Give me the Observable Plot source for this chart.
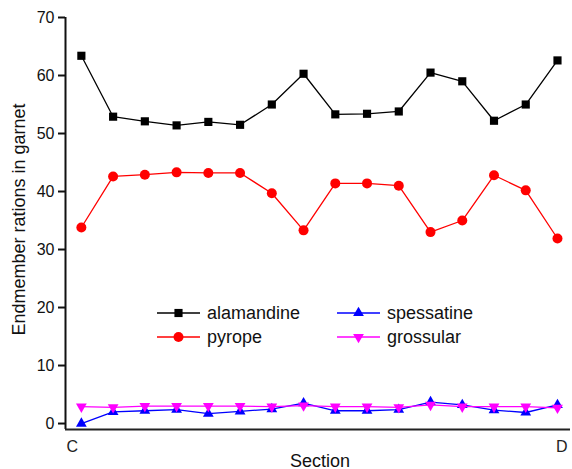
<!DOCTYPE html>
<html>
<head>
<meta charset="utf-8">
<script src="https://cdn.jsdelivr.net/npm/d3@7"></script>
<script src="https://cdn.jsdelivr.net/npm/@observablehq/plot@0.6"></script>
<style>
  html, body { margin: 0; padding: 0; background: #fff; }
  #chart svg { display: block; }
</style>
</head>
<body>
<div id="chart"></div>
<script>
// Sample positions along the section from C to D
const samples = [0, 1, 2, 3, 4, 5, 6, 7, 8, 9, 10, 11, 12, 13, 14, 15];

// Garnet endmember proportions (%) at each sample
const alamandine  = [63.4, 52.9, 52.1, 51.4, 52.0, 51.5, 55.0, 60.3, 53.3, 53.4, 53.8, 60.5, 59.0, 52.2, 55.0, 62.6];
const pyrope      = [33.8, 42.6, 42.9, 43.3, 43.2, 43.2, 39.7, 33.3, 41.4, 41.4, 41.0, 33.0, 35.0, 42.8, 40.2, 31.9];
const spessatine  = [0.0, 2.0, 2.2, 2.4, 1.7, 2.1, 2.5, 3.5, 2.2, 2.2, 2.4, 3.7, 3.2, 2.3, 1.9, 3.2];
const grossular   = [2.9, 2.8, 3.0, 3.0, 3.0, 3.0, 2.9, 3.1, 2.9, 2.9, 2.8, 3.2, 2.9, 2.9, 2.9, 2.7];

const seriesNames = ["alamandine", "pyrope", "spessatine", "grossular"];
const yTicks = [0, 10, 20, 30, 40, 50, 60, 70];
const sectionEnds = ["C", "D"];
const yTitle = "Endmember rations in garnet";
const xTitle = "Section";

// Visual style of each series
const styles = {
  alamandine: {color: "#000000", symbol: "square",   r: 4.6, rotate: 0},
  pyrope:     {color: "#ff0000", symbol: "circle",   r: 5.0, rotate: 0},
  spessatine: {color: "#0000ff", symbol: "triangle", r: 4.0, rotate: 0},
  grossular:  {color: "#ff00ff", symbol: "triangle", r: 4.0, rotate: 180}
};

const valuesBySeries = {alamandine, pyrope, spessatine, grossular};
const table = seriesNames.map(name =>
  samples.map((s, i) => ({sample: s, value: valuesBySeries[name][i], series: name}))
);

const font = "'Liberation Sans', Arial, Helvetica, sans-serif";
const W = 572, H = 469;
const margin = {top: 17, right: 2, bottom: 40, left: 65};
const xDomain = [-0.5, 15.41];
const yDomain = [-1.03, 70];

const seriesMarks = table.flatMap(rows => {
  const st = styles[rows[0].series];
  return [
    Plot.line(rows, {x: "sample", y: "value", stroke: st.color, strokeWidth: 1.3}),
    Plot.dot(rows, {x: "sample", y: "value", symbol: () => st.symbol, r: st.r,
                    fill: st.color, stroke: "none", rotate: st.rotate})
  ];
});

const chart = Plot.plot({
  width: W,
  height: H,
  marginTop: margin.top,
  marginRight: margin.right,
  marginBottom: margin.bottom,
  marginLeft: margin.left,
  style: {fontFamily: font, fontSize: "16px", color: "#111", background: "#fff"},
  x: {domain: xDomain, axis: null},
  y: {domain: yDomain, axis: null},
  marks: [
    Plot.axisY({ticks: yTicks, tickSize: 7, tickPadding: 4, strokeWidth: 2,
                fontSize: 16, label: null, stroke: "#111"}),
    Plot.ruleX([xDomain[0]], {y1: yDomain[0], y2: yDomain[1], stroke: "#111", strokeWidth: 2}),
    Plot.ruleY([yDomain[0]], {stroke: "#222", strokeWidth: 2}),
    ...seriesMarks,
    // Section end labels
    Plot.text([sectionEnds[0]], {frameAnchor: "bottom-left", text: d => d, textAnchor: "start",
                                 dx: 1, dy: 22, fontSize: 16, fill: "#222"}),
    Plot.text([sectionEnds[1]], {frameAnchor: "bottom-right", text: d => d, textAnchor: "end",
                                 dx: -3, dy: 22, fontSize: 16, fill: "#222"}),
    // Axis titles
    Plot.text([xTitle], {frameAnchor: "bottom", text: d => d, textAnchor: "middle",
                         dx: 2, dy: 37, fontSize: 18, fill: "#111"}),
    Plot.text([yTitle], {frameAnchor: "left", text: d => d, textAnchor: "middle", rotate: -90,
                         dx: -46, dy: -4, fontSize: 18, fill: "#111"})
  ]
});

// Legend inside the plot area, two columns by two rows
const svg = d3.select(chart);
const legendItems = [
  {name: "alamandine", col: 0, row: 0},
  {name: "spessatine", col: 1, row: 0},
  {name: "pyrope",     col: 0, row: 1},
  {name: "grossular",  col: 1, row: 1}
];
const colX = [157, 337], rowY = [313, 337], sampleLen = 43, textGap = 7;
const symbolTypes = {square: d3.symbolSquare, circle: d3.symbolCircle, triangle: d3.symbolTriangle};
const lg = svg.append("g").attr("font-family", font).attr("font-size", 18)
  .attr("text-anchor", "start");
for (const it of legendItems) {
  const st = styles[it.name];
  const x0 = colX[it.col], y0 = rowY[it.row];
  const g = lg.append("g").attr("transform", `translate(${x0},${y0})`);
  g.append("line").attr("x1", 0).attr("x2", sampleLen).attr("y1", 0).attr("y2", 0)
    .attr("stroke", st.color).attr("stroke-width", 1.3);
  g.append("path")
    .attr("d", d3.symbol(symbolTypes[st.symbol], Math.PI * st.r * st.r)())
    .attr("transform", `translate(${sampleLen / 2},0) rotate(${st.rotate})`)
    .attr("fill", st.color);
  g.append("text").attr("x", sampleLen + textGap).attr("y", 0).attr("dy", "0.35em")
    .attr("text-anchor", "start").attr("fill", "#111").text(it.name);
}

document.getElementById("chart").appendChild(chart);
</script>
</body>
</html>
